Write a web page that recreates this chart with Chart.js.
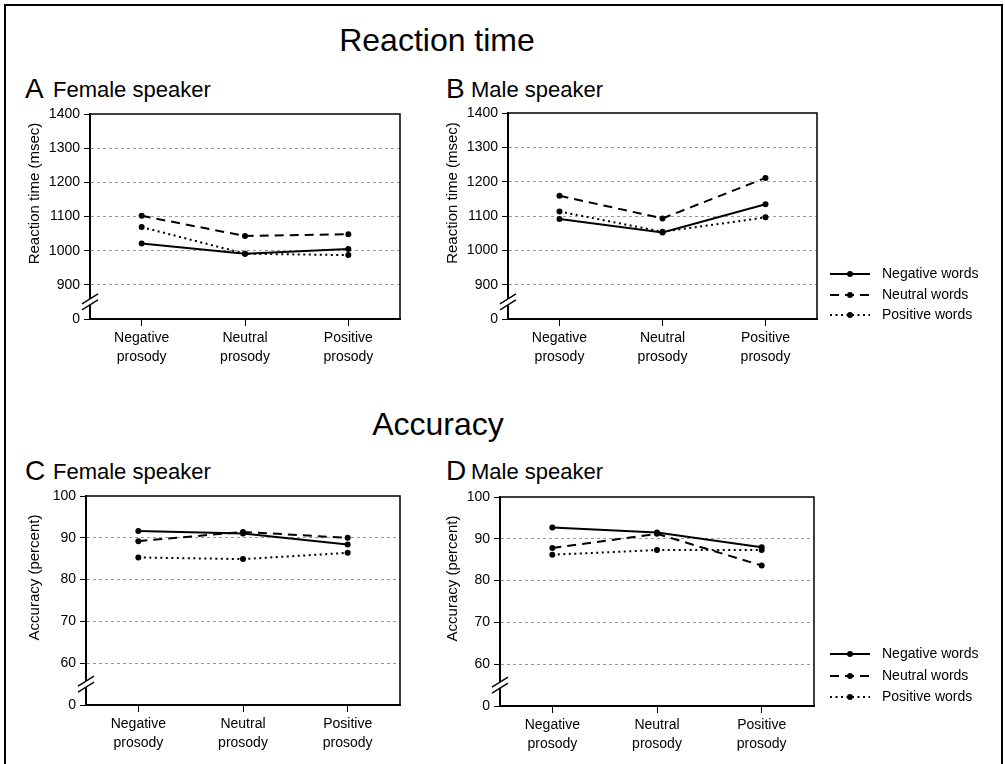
<!DOCTYPE html>
<html lang="en">
<head>
  <meta charset="UTF-8" />
  <title>Reaction time and accuracy</title>
  <style>
    body {
      margin: 0;
      background: #fff;
      width: 1005px;
      height: 764px;
      overflow: hidden;
      position: relative;
      font-family: 'Liberation Sans', Arial, sans-serif;
      color: #000;
    }
    .frame {
      position: absolute;
      left: 4px;
      top: 4px;
      width: 999px;
      height: 800px;
      border: 2px solid #000;
      box-sizing: border-box;
    }
    .txt {
      position: absolute;
      line-height: 1;
      white-space: nowrap;
    }
    .heading { font-size: 32px; transform: translateX(-50%); }
    .letter { font-size: 28px; }
    .speaker { font-size: 22px; }
    canvas { position: absolute; }
  </style>
</head>
<body>
<div class="frame"></div>

<div class="txt heading" style="left:437px; top:24px;">Reaction time</div>
<div class="txt letter" style="left:25px; top:75px;">A</div>
<div class="txt speaker" style="left:53px; top:79px;">Female speaker</div>
<div class="txt letter" style="left:446px; top:75px;">B</div>
<div class="txt speaker" style="left:471px; top:79px;">Male speaker</div>

<div class="txt heading" style="left:438px; top:408px;">Accuracy</div>
<div class="txt letter" style="left:25px; top:457px;">C</div>
<div class="txt speaker" style="left:53px; top:461px;">Female speaker</div>
<div class="txt letter" style="left:446px; top:457px;">D</div>
<div class="txt speaker" style="left:471px; top:461px;">Male speaker</div>

<canvas id="panelA" width="420" height="280" style="left:0; top:100px;"></canvas>
<canvas id="panelB" width="585" height="280" style="left:420px; top:100px;"></canvas>
<canvas id="panelC" width="420" height="285" style="left:0; top:480px;"></canvas>
<canvas id="panelD" width="585" height="285" style="left:420px; top:480px;"></canvas>

<script src="https://cdn.jsdelivr.net/npm/chart.js"></script>
<script>
// categories and series
const categories = [['Negative', 'prosody'], ['Neutral', 'prosody'], ['Positive', 'prosody']];
const seriesNames = ['Negative words', 'Neutral words', 'Positive words'];

// reaction time (msec)
const rtFemaleNegWords = [1021, 991, 1005];
const rtFemaleNeuWords = [1102, 1043, 1048];
const rtFemalePosWords = [1069, 991, 987];
const rtMaleNegWords = [1091, 1052, 1134];
const rtMaleNeuWords = [1159, 1093, 1211];
const rtMalePosWords = [1113, 1054, 1096];

// accuracy (percent)
const accFemaleNegWords = [91.6, 91.0, 88.4];
const accFemaleNeuWords = [89.2, 91.4, 90.0];
const accFemalePosWords = [85.3, 84.9, 86.4];
const accMaleNegWords = [92.7, 91.5, 88.0];
const accMaleNeuWords = [87.8, 91.2, 83.6];
const accMalePosWords = [86.2, 87.3, 87.3];

// y ticks: the lowest tick stands for 0 (broken axis)
const rtTicks = [800, 900, 1000, 1100, 1200, 1300, 1400];
const rtTickLabels = ['0', '900', '1000', '1100', '1200', '1300', '1400'];
const accTicks = [50, 60, 70, 80, 90, 100];
const accTickLabels = ['0', '60', '70', '80', '90', '100'];

Chart.defaults.font.family = "'Liberation Sans', Arial, sans-serif";
Chart.defaults.color = '#000';

const lineStyles = [
  { borderDash: [] },
  { borderDash: [9, 6] },
  { borderDash: [2, 3.5] }
];

// top/right frame of the plot box, the // break on the y axis, the y title
const frameAndBreak = {
  id: 'frameAndBreak',
  beforeDatasetsDraw(chart, args, opts) {
    const { ctx, chartArea: a, scales: { y } } = chart;
    ctx.save();
    ctx.strokeStyle = '#000';
    ctx.lineWidth = 1.5;
    ctx.beginPath();
    ctx.moveTo(a.left, a.top);
    ctx.lineTo(a.right, a.top);
    ctx.lineTo(a.right, a.bottom);
    ctx.stroke();

    const yb = (y.getPixelForValue(y.ticks[0].value) + y.getPixelForValue(y.ticks[1].value)) / 2;
    const x = a.left;
    ctx.fillStyle = '#fff';
    ctx.fillRect(x - 3, yb - 3, 6, 6);
    ctx.lineWidth = 1.3;
    ctx.beginPath();
    ctx.moveTo(x - 8, yb + 2); ctx.lineTo(x + 8, yb - 8);
    ctx.moveTo(x - 8, yb + 8); ctx.lineTo(x + 8, yb - 2);
    ctx.stroke();

    // y axis title, sitting a little above the axis middle
    ctx.translate(opts.titleX, (a.top + a.bottom) / 2 - 23);
    ctx.rotate(-Math.PI / 2);
    ctx.fillStyle = '#000';
    ctx.font = "15px 'Liberation Sans', Arial, sans-serif";
    ctx.textAlign = 'center';
    ctx.textBaseline = 'middle';
    ctx.fillText(opts.title, 0, 0);
    ctx.restore();
  }
};

// legend: line sample with a dot, then the label
const lineLegend = {
  id: 'lineLegend',
  afterDraw(chart, args, opts) {
    if (!opts || !opts.rows) return;
    const ctx = chart.ctx;
    chart.data.datasets.forEach((ds, i) => {
      const y = opts.rows[i];
      ctx.save();
      ctx.strokeStyle = ds.borderColor;
      ctx.lineWidth = ds.borderWidth;
      ctx.setLineDash(ds.borderDash || []);
      ctx.beginPath();
      ctx.moveTo(opts.x, y);
      ctx.lineTo(opts.x + 40, y);
      ctx.stroke();
      ctx.setLineDash([]);
      ctx.fillStyle = '#000';
      ctx.beginPath();
      ctx.arc(opts.x + 20, y, ds.pointRadius, 0, Math.PI * 2);
      ctx.fill();
      ctx.font = "14px 'Liberation Sans', Arial, sans-serif";
      ctx.textBaseline = 'middle';
      ctx.fillText(ds.label, opts.x + 52, y);
      ctx.restore();
    });
  }
};

function makePanel(id, cfg) {
  const datasets = cfg.series.map((values, i) => ({
    label: seriesNames[i],
    data: values,
    borderColor: '#000',
    borderWidth: 2,
    borderDash: lineStyles[i].borderDash,
    pointRadius: 3,
    pointBackgroundColor: '#000',
    pointBorderWidth: 0,
    tension: 0,
    fill: false
  }));

  const plugins = [frameAndBreak];
  if (cfg.legend) plugins.push(lineLegend);

  new Chart(document.getElementById(id), {
    type: 'line',
    data: { labels: categories, datasets: datasets },
    plugins: plugins,
    options: {
      responsive: false,
      animation: false,
      events: [],
      layout: { padding: cfg.padding },
      plugins: {
        legend: { display: false },
        tooltip: { enabled: false },
        frameAndBreak: { title: cfg.yTitle, titleX: cfg.titleX },
        lineLegend: cfg.legend || {}
      },
      scales: {
        x: {
          offset: true,
          afterFit: (scale) => { scale.height = cfg.xHeight; },
          grid: { drawOnChartArea: false, drawTicks: true, tickLength: 7, tickColor: '#000', tickWidth: 1 },
          border: { display: true, color: '#000', width: 2 },
          ticks: {
            maxRotation: 0,
            autoSkip: false,
            padding: 3,
            font: { size: 14, lineHeight: 1.35 }
          }
        },
        y: {
          min: cfg.ticks[0],
          max: cfg.ticks[cfg.ticks.length - 1],
          afterFit: (scale) => { scale.width = cfg.yWidth; },
          afterBuildTicks: (scale) => { scale.ticks = cfg.ticks.map(v => ({ value: v })); },
          grid: {
            color: (c) => (c.tick && (c.tick.value === cfg.ticks[0] || c.tick.value === cfg.ticks[cfg.ticks.length - 1])) ? 'rgba(0,0,0,0)' : '#9a9a9a',
            lineWidth: 1,
            tickColor: '#000',
            tickLength: 6,
            tickWidth: 1
          },
          border: { display: true, color: '#000', width: 2, dash: [3, 3] },
          ticks: {
            padding: 4,
            font: { size: 14 },
            callback: (v) => cfg.tickLabels[cfg.ticks.indexOf(v)]
          }
        }
      }
    }
  });
}

makePanel('panelA', {
  series: [rtFemaleNegWords, rtFemaleNeuWords, rtFemalePosWords],
  ticks: rtTicks, tickLabels: rtTickLabels,
  yTitle: 'Reaction time (msec)', titleX: 35,
  padding: { left: 22, top: 14, right: 20, bottom: 0 },
  yWidth: 68, xHeight: 61
});

makePanel('panelB', {
  series: [rtMaleNegWords, rtMaleNeuWords, rtMalePosWords],
  ticks: rtTicks, tickLabels: rtTickLabels,
  yTitle: 'Reaction time (msec)', titleX: 33,
  padding: { left: 22, top: 13, right: 188, bottom: 0 },
  yWidth: 66, xHeight: 61,
  legend: { x: 410, rows: [174, 195, 215] }
});

makePanel('panelC', {
  series: [accFemaleNegWords, accFemaleNeuWords, accFemalePosWords],
  ticks: accTicks, tickLabels: accTickLabels,
  yTitle: 'Accuracy (percent)', titleX: 35,
  padding: { left: 20, top: 16, right: 20, bottom: 0 },
  yWidth: 66, xHeight: 60
});

makePanel('panelD', {
  series: [accMaleNegWords, accMaleNeuWords, accMalePosWords],
  ticks: accTicks, tickLabels: accTickLabels,
  yTitle: 'Accuracy (percent)', titleX: 33,
  padding: { left: 20, top: 17, right: 191, bottom: 0 },
  yWidth: 60, xHeight: 59,
  legend: { x: 410, rows: [174, 196, 217] }
});
</script>
</body>
</html>
